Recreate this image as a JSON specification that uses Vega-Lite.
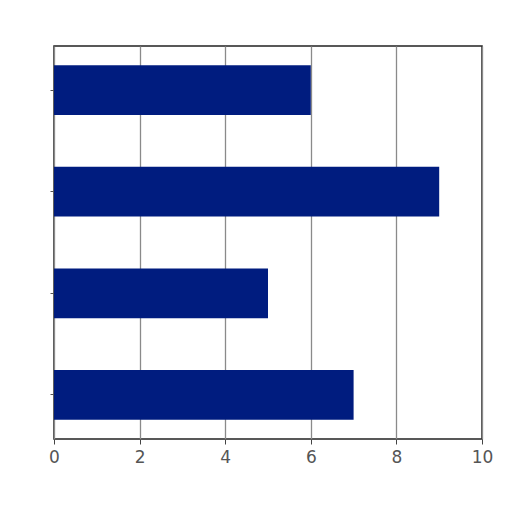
{
  "$schema": "https://vega.github.io/schema/vega-lite/v6.json",
  "autosize": {"type": "none"},
  "padding": {"left": 54, "top": 46, "right": 30, "bottom": 73},
  "width": 428,
  "height": 393,
  "background": "white",
  "config": {
    "view": {"stroke": "#222222", "strokeWidth": 1.5},
    "axis": {"domain": false}
  },
  "data": {
    "values": [
      {"category": "A", "value": 6},
      {"category": "B", "value": 9},
      {"category": "C", "value": 5},
      {"category": "D", "value": 7}
    ]
  },
  "mark": {"type": "bar", "color": "#001c7f"},
  "encoding": {
    "y": {
      "field": "category",
      "type": "nominal",
      "sort": null,
      "scale": {"paddingInner": 0.51, "paddingOuter": 0.19},
      "axis": {"title": null, "labels": false, "ticks": true, "tickSize": 4, "tickColor": "#555555", "grid": false}
    },
    "x": {
      "field": "value",
      "type": "quantitative",
      "scale": {"domain": [0, 10], "nice": false},
      "axis": {
        "title": null,
        "values": [0, 2, 4, 6, 8, 10],
        "grid": true,
        "gridColor": "#8a8a8a",
        "gridWidth": 1.3,
        "ticks": true,
        "tickSize": 5,
        "tickColor": "#444444",
        "labelFont": "DejaVu Sans",
        "labelFontSize": 17,
        "labelColor": "#555555",
        "labelPadding": 5,
        "labelFlush": false
      }
    }
  }
}
